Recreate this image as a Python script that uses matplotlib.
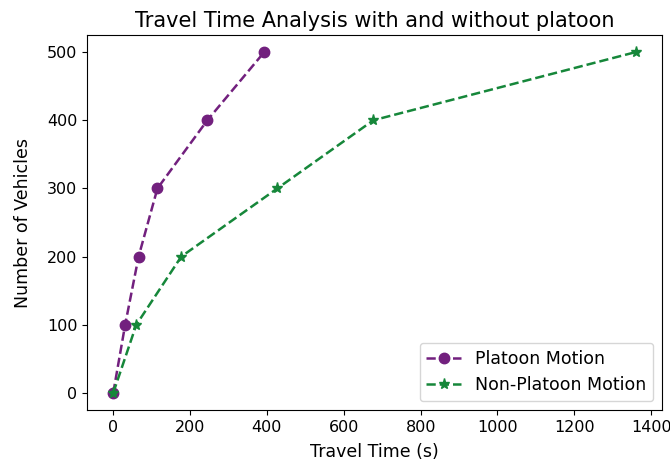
import matplotlib.pyplot as plt

vehicles = [0, 100, 200, 300, 400, 500]
platoon_time = [0, 31, 66, 115, 245, 393]
non_platoon_time = [0, 60, 177, 427, 677, 1360]

plt.rcParams['font.size'] = 12.5
plt.rcParams['xtick.labelsize'] = 11.5
plt.rcParams['ytick.labelsize'] = 11.5

fig = plt.figure(figsize=(6.7, 4.67), dpi=100)
ax = fig.add_axes([0.13, 0.122, 0.858, 0.803])

ax.plot(platoon_time, vehicles, linestyle='--', marker='o', markersize=7.5,
        linewidth=1.8, color='#72207e', label='Platoon Motion')
ax.plot(non_platoon_time, vehicles, linestyle='--', marker='*', markersize=8,
        linewidth=1.8, color='#16873a', label='Non-Platoon Motion')

ax.set_title('Travel Time Analysis with and without platoon', fontsize=15)
ax.set_xlabel('Travel Time (s)', labelpad=6)
ax.set_ylabel('Number of Vehicles', labelpad=11)
ax.legend(loc='lower right')

fig.savefig('out.png', dpi=100)
